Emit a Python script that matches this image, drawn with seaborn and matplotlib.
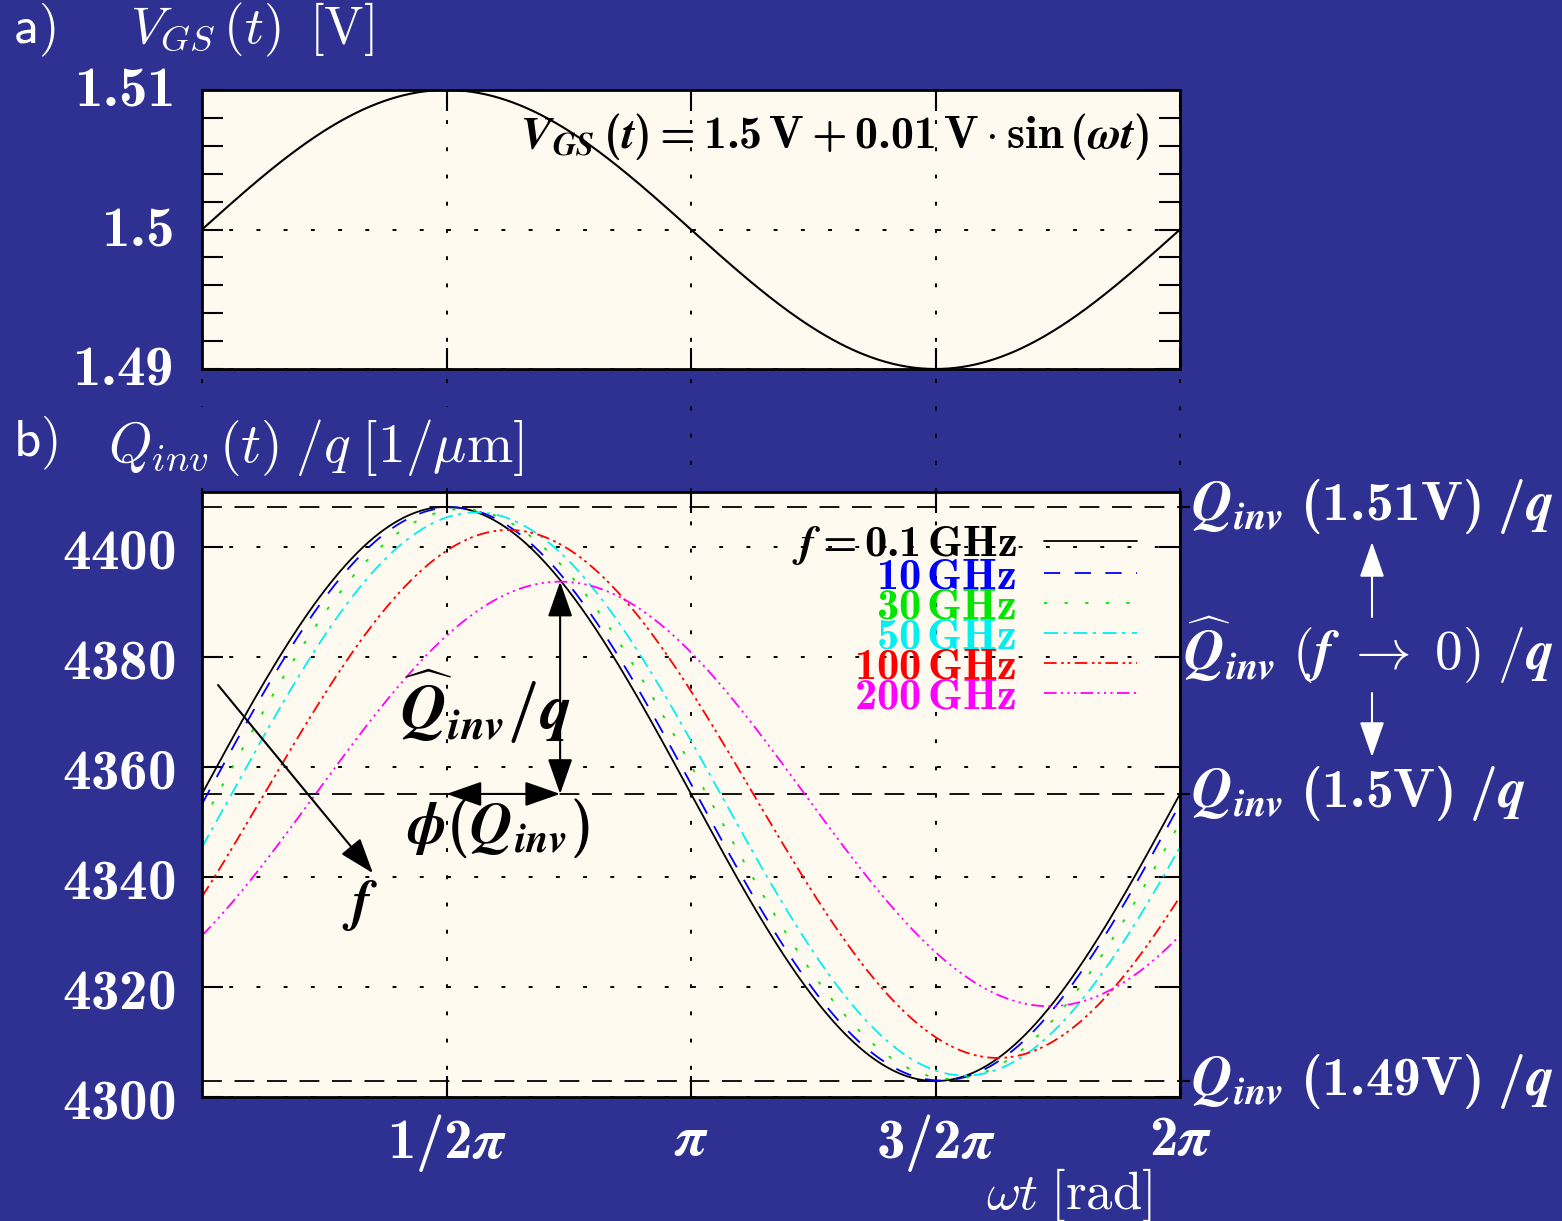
import numpy as np
import pandas as pd
import matplotlib
matplotlib.use("Agg")
import matplotlib.pyplot as plt
import seaborn as sns
from matplotlib.ticker import MultipleLocator

# ---------------------------------------------------------------- data
# gate excitation: V_GS(t) = 1.5 V + 0.01 V * sin(wt)
vgs_dc = 1.5
vgs_amp = 0.01

# inversion-charge response Q_inv(t)/q for each excitation frequency
freq_keys = ["0.1 GHz", "10 GHz", "30 GHz", "50 GHz", "100 GHz", "200 GHz"]
freq_labels = [r"$\boldsymbol{f}\mathbf{=0.1\,GHz}$", r"$\mathbf{10\,GHz}$",
               r"$\mathbf{30\,GHz}$", r"$\mathbf{50\,GHz}$",
               r"$\mathbf{100\,GHz}$", r"$\mathbf{200\,GHz}$"]
q_dc = 4355.1                                   # Q_inv(1.5 V)/q  [1/um]
q_hat = [52.2, 52.1, 51.8, 51.2, 48.0, 38.6]    # amplitude  [1/um]
phi = [0.0, 0.035, 0.10, 0.19, 0.40, 0.73]      # phase lag  [rad]

# quasi-static reference levels
q_levels = [4407.3, 4355.1, 4302.9]
q_level_labels = [r"$\boldsymbol{Q}_{\boldsymbol{inv}}\;\mathbf{(1.51V)}\;\mathbf{/}\boldsymbol{q}$",
                  r"$\boldsymbol{Q}_{\boldsymbol{inv}}\;\mathbf{(1.5V)}\;\mathbf{/}\boldsymbol{q}$",
                  r"$\boldsymbol{Q}_{\boldsymbol{inv}}\;\mathbf{(1.49V)}\;\mathbf{/}\boldsymbol{q}$"]

x_ticks = [np.pi / 2, np.pi, 3 * np.pi / 2, 2 * np.pi]
x_tick_labels = [r"$\mathbf{1/2}\boldsymbol{\pi}$", r"$\boldsymbol{\pi}$",
                 r"$\mathbf{3/2}\boldsymbol{\pi}$", r"$\mathbf{2}\boldsymbol{\pi}$"]
vgs_ticks = [1.49, 1.50, 1.51]
vgs_tick_labels = [r"$\mathbf{1.49}$", r"$\mathbf{1.5}$", r"$\mathbf{1.51}$"]
q_ticks = [4300, 4320, 4340, 4360, 4380, 4400]
q_tick_labels = [r"$\mathbf{4300}$", r"$\mathbf{4320}$", r"$\mathbf{4340}$",
                 r"$\mathbf{4360}$", r"$\mathbf{4380}$", r"$\mathbf{4400}$"]

# ---------------------------------------------------------------- style
BG = "#2e3192"
PANEL = "#fffaf0"
line_colors = ["#000000", "#0000ff", "#00e600", "#00f0f0", "#ff0000", "#ff00ff"]
line_dashes = ["", (9, 8), (1.8, 9.6), (7.8, 3, 1.8, 3.6),
               (7, 2.5, 1.5, 2, 1.5, 2.5),
               (7, 2.4, 1.2, 2.4, 1.2, 2.4, 1.2, 2.4)]
GRID_LS = (0, (2, 12))
FS_TICK = 41
FS_LAB = 38

sns.set_theme(style="ticks")
plt.rcParams["font.family"] = ["DejaVu Sans"]
# Computer Modern bold for upright bold math, STIX for bold italic
plt.rcParams["mathtext.fontset"] = "custom"
plt.rcParams["mathtext.rm"] = "cmr10"
plt.rcParams["mathtext.it"] = "cmmi10"
plt.rcParams["mathtext.bf"] = "cmb10"
plt.rcParams["mathtext.bfit"] = "STIXGeneral:italic:bold"
plt.rcParams["mathtext.sf"] = "cmss10"
plt.rcParams["mathtext.fallback"] = "cm"
plt.rcParams["axes.linewidth"] = 2.0

wt = np.linspace(0, 2 * np.pi, 721)
df_v = pd.DataFrame({"wt": wt, "vgs": vgs_dc + vgs_amp * np.sin(wt)})
df_q = pd.concat([
    pd.DataFrame({"wt": wt, "q": q_dc + a * np.sin(wt - p), "f": k})
    for k, a, p in zip(freq_keys, q_hat, phi)
], ignore_index=True)

fig = plt.figure(figsize=(15.62, 12.21), dpi=100, facecolor=BG)
ax_t = fig.add_axes([202 / 1562, 1 - 369 / 1221, 978 / 1562, 279 / 1221])
ax_b = fig.add_axes([202 / 1562, 1 - 1097 / 1221, 978 / 1562, 605 / 1221])

for ax in (ax_t, ax_b):
    ax.set_facecolor(PANEL)
    ax.set_xlim(0, 2 * np.pi)
    for s in ax.spines.values():
        s.set_color("black")
        s.set_linewidth(2.0)
    ax.set_xticks(x_ticks)
    ax.tick_params(axis="both", which="both", direction="in", length=15,
                   width=1.5, color="black", top=True, right=True,
                   labelcolor="white", labelsize=FS_TICK)
    ax.grid(True, which="major", color="black", linestyle=GRID_LS, linewidth=1.4)

# ---------------- panel a: gate voltage
sns.lineplot(data=df_v, x="wt", y="vgs", color="black", linewidth=1.5,
             sort=False, estimator=None, ax=ax_t)
ax_t.set_ylim(1.49, 1.51)
ax_t.set_yticks(vgs_ticks, labels=vgs_tick_labels)
ax_t.yaxis.set_minor_locator(MultipleLocator(0.002))
ax_t.tick_params(axis="x", labelbottom=False)
ax_t.tick_params(axis="y", pad=21)
for lab in ax_t.get_yticklabels():
    lab.set_verticalalignment("center")
ax_t.set_xlabel("")
ax_t.set_ylabel("")
ax_t.text(0.969, 0.832,
          r"$\boldsymbol{V}_{\boldsymbol{GS}}\,\mathbf{(}\boldsymbol{t}\mathbf{)}"
          r"\mathbf{=1.5\,V+0.01\,V}\cdot\mathbf{sin\,(}\boldsymbol{\omega t}\mathbf{)}$",
          transform=ax_t.transAxes, ha="right", va="center", fontsize=33,
          color="black")

# ---------------- panel b: inversion charge
sns.lineplot(data=df_q, x="wt", y="q", hue="f", style="f",
             palette=dict(zip(freq_keys, line_colors)),
             dashes=dict(zip(freq_keys, line_dashes)),
             hue_order=freq_keys, style_order=freq_keys,
             linewidth=1.3, sort=False, estimator=None, legend=False, ax=ax_b)
curves = list(ax_b.get_lines())
ax_b.set_xlabel("")
ax_b.set_ylabel("")
ax_b.set_ylim(4300, 4410)
ax_b.set_yticks(q_ticks, labels=q_tick_labels)
ax_b.set_xticks(x_ticks, labels=x_tick_labels)
ax_b.tick_params(axis="y", pad=19)
ax_b.tick_params(axis="x", pad=11)

for lvl in q_levels:
    ax_b.axhline(lvl, color="black", linewidth=1.3, dashes=(11, 7), zorder=1.5)

leg = ax_b.legend(curves, freq_labels, loc="upper right",
                  bbox_to_anchor=(0.956, 0.950), frameon=False,
                  markerfirst=False, labelcolor="linecolor", fontsize=32,
                  handlelength=2.1, handletextpad=0.6, labelspacing=-0.29,
                  borderpad=0, borderaxespad=0)

# amplitude / phase markers for the 200 GHz curve
x_peak = np.pi / 2 + phi[-1]
q_peak = q_dc + q_hat[-1]
arrow_kw = dict(arrowstyle="<|-|>,head_length=1.0,head_width=0.35",
                color="black", lw=1.5, shrinkA=0, shrinkB=0, mutation_scale=22)
ax_b.annotate("", xy=(x_peak, q_peak), xytext=(x_peak, q_dc), arrowprops=arrow_kw)
ax_b.annotate("", xy=(np.pi / 2, q_dc), xytext=(x_peak, q_dc), arrowprops=arrow_kw)
ax_b.text(1.82, 4371.0, r"$\widehat{\boldsymbol{Q}}_{\boldsymbol{inv}}\mathbf{/}\boldsymbol{q}$",
          ha="center", va="center", fontsize=45, color="black")
ax_b.text(1.90, 4348.9, r"$\boldsymbol{\phi}\mathbf{(}\boldsymbol{Q}_{\boldsymbol{inv}}\mathbf{)}$",
          ha="center", va="center", fontsize=42, color="black")

# direction of increasing frequency
ax_b.annotate("", xy=(1.098, 4340.7), xytext=(0.103, 4374.9),
              arrowprops=dict(arrowstyle="-|>,head_length=1.0,head_width=0.35",
                              color="black", lw=1.5, shrinkA=0, shrinkB=0,
                              mutation_scale=22))
ax_b.text(1.015, 4334.9, r"$\boldsymbol{f}$", ha="center", va="center",
          fontsize=40, color="black")

# quasi-static levels on the right-hand side
sec = ax_b.secondary_yaxis("right")
sec.set_yticks(q_levels, labels=q_level_labels)
sec.tick_params(axis="y", direction="out", length=7, width=1.5, pad=1,
                color="black", labelcolor="white", labelsize=40)
for lab in sec.get_yticklabels():
    lab.set_verticalalignment("center")
sec.spines["right"].set_linewidth(2.0)

# grid continued across the gap between the panels
ax_b.vlines([0] + x_ticks, 1.0, 1.0 + 123 / 605, transform=ax_b.get_xaxis_transform(),
            colors="black", linestyles=[GRID_LS], linewidth=1.4, clip_on=False)

# ---------------- figure labels
white = dict(color="white", fontsize=FS_LAB, math_fontfamily="cm")
fig.text(13 / 1562, 1 - 30 / 1221, r"$\mathsf{a)}$", va="center", ha="left", **white)
fig.text(130 / 1562, 1 - 30 / 1221, r"$V_{GS}\,(t)\;\;[\mathrm{V}]$",
         va="center", ha="left", **white)
fig.text(13 / 1562, 1 - 443 / 1221, r"$\mathsf{b)}$", va="center", ha="left", **white)
fig.text(108 / 1562, 1 - 447 / 1221, r"$Q_{inv}\,(t)\;/q\;[1/\mu\mathrm{m}]$",
         va="center", ha="left", color="white", fontsize=40, math_fontfamily="cm",
         bbox=dict(facecolor=BG, edgecolor="none", pad=7))
fig.text(1152 / 1562, 1 - 1195 / 1221, r"$\omega t\;[\mathrm{rad}]$",
         va="center", ha="right", **white)
fig.text(1368 / 1562, 1 - 650 / 1221,
         r"$\widehat{\boldsymbol{Q}}_{\boldsymbol{inv}}\;(\boldsymbol{f}\;\rightarrow\;0)\;/\boldsymbol{q}$",
         va="center", ha="center", color="white", fontsize=40)
white_arrow = dict(arrowstyle="-|>,head_length=1.0,head_width=0.35", color="white",
                   lw=1.5, shrinkA=0, shrinkB=0, mutation_scale=22)
ax_b.annotate("", xy=(1372 / 1562, 1 - 542 / 1221), xytext=(1372 / 1562, 1 - 617 / 1221),
              xycoords="figure fraction", annotation_clip=False, arrowprops=white_arrow)
ax_b.annotate("", xy=(1372 / 1562, 1 - 757 / 1221), xytext=(1372 / 1562, 1 - 693 / 1221),
              xycoords="figure fraction", annotation_clip=False, arrowprops=white_arrow)

fig.savefig("out.png", dpi=100, facecolor=BG)
